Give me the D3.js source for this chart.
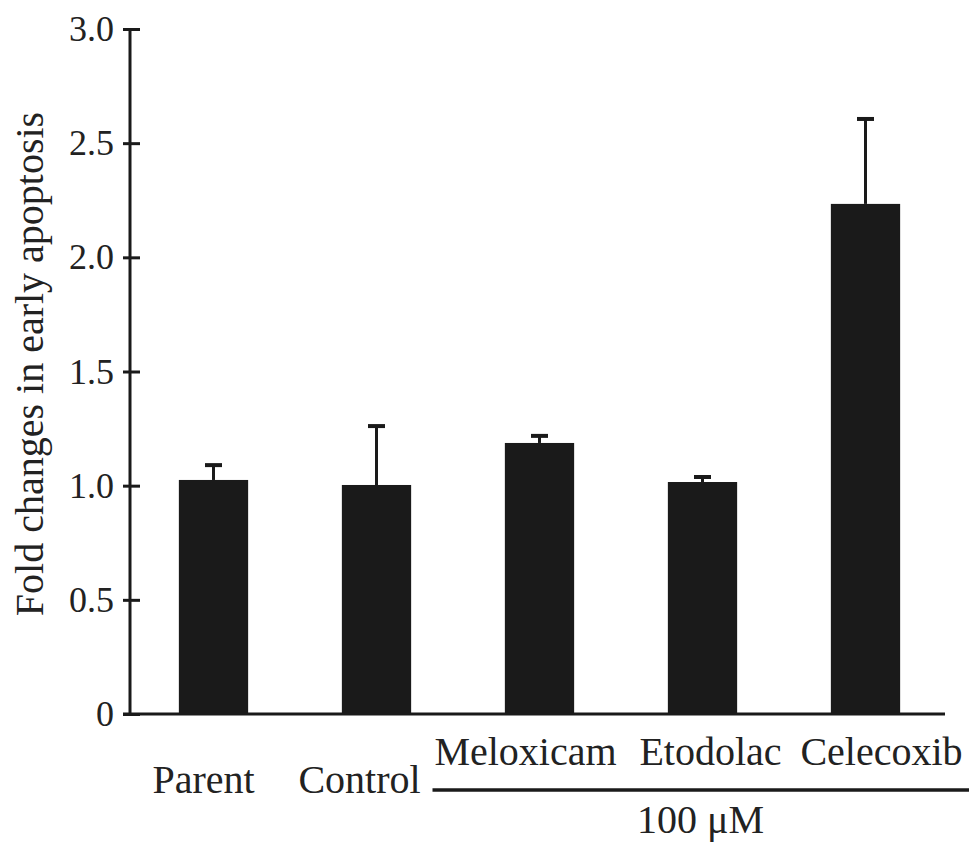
<!DOCTYPE html>
<html>
<head>
<meta charset="utf-8">
<script src="https://cdn.jsdelivr.net/npm/d3@7"></script>
<style>
  html, body { margin: 0; padding: 0; background: #fff; }
  svg { display: block; }
  text { font-family: "Liberation Serif", "Times New Roman", serif; fill: #222; }
</style>
</head>
<body>
<svg id="chart" width="969" height="846"></svg>
<script>
// Treatment groups and measured fold changes (mean and SD)
const categories = ["Parent", "Control", "Meloxicam", "Etodolac", "Celecoxib"];
const means = [1.025, 1.003, 1.187, 1.016, 2.234];
const errors = [0.065, 0.258, 0.031, 0.022, 0.372];
const yTicks = [0, 0.5, 1.0, 1.5, 2.0, 2.5, 3.0];
const yTickLabels = ["0", "0.5", "1.0", "1.5", "2.0", "2.5", "3.0"];
const yTitle = "Fold changes in early apoptosis";
const groupLabel = "100 \u03bcM";
const drugGroup = ["Meloxicam", "Etodolac", "Celecoxib"];

// Label placement under the axis
const labelLayout = {
  Parent:    { anchor: "middle", dx: -10, row: 1 },
  Control:   { anchor: "middle", dx: -17, row: 1 },
  Meloxicam: { anchor: "middle", dx: -14, row: 0 },
  Etodolac:  { anchor: "middle", dx: 8,   row: 0 },
  Celecoxib: { anchor: "middle", dx: 16,  row: 0 }
};

const svg = d3.select("#chart");
const ink = "#1a1a1a";

const x = d3.scaleBand()
  .domain(categories)
  .range([132, 947])
  .paddingInner(0.575)
  .paddingOuter(0.2875);

const y = d3.scaleLinear()
  .domain([0, 3])
  .range([714, 29]);

const data = categories.map((c, i) => ({ name: c, mean: means[i], err: errors[i] }));

// Bars
svg.append("g").selectAll("rect")
  .data(data)
  .enter().append("rect")
  .attr("x", d => x(d.name))
  .attr("y", d => y(d.mean))
  .attr("width", x.bandwidth())
  .attr("height", d => y(0) - y(d.mean))
  .attr("fill", ink);

// Upper error bars
const eb = svg.append("g").attr("stroke", ink).attr("fill", "none");
eb.selectAll("line.stem")
  .data(data)
  .enter().append("line")
  .attr("class", "stem")
  .attr("x1", d => x(d.name) + x.bandwidth() / 2)
  .attr("x2", d => x(d.name) + x.bandwidth() / 2)
  .attr("y1", d => y(d.mean))
  .attr("y2", d => y(d.mean + d.err))
  .attr("stroke-width", 3);
eb.selectAll("line.cap")
  .data(data)
  .enter().append("line")
  .attr("class", "cap")
  .attr("x1", d => x(d.name) + x.bandwidth() / 2 - 8.5)
  .attr("x2", d => x(d.name) + x.bandwidth() / 2 + 8.5)
  .attr("y1", d => y(d.mean + d.err))
  .attr("y2", d => y(d.mean + d.err))
  .attr("stroke-width", 4);

// Y axis with ticks crossing the spine
const yAxis = d3.axisLeft(y)
  .tickValues(yTicks)
  .tickFormat((d, i) => yTickLabels[i])
  .tickSize(0)
  .tickPadding(16);
const gy = svg.append("g").attr("transform", "translate(130,0)").call(yAxis);
gy.select(".domain").remove();
gy.selectAll(".tick text")
  .attr("font-size", 36)
  .attr("fill", "#222")
  .attr("font-family", "Liberation Serif, serif");
gy.selectAll(".tick").append("line")
  .attr("x1", -7).attr("x2", 10)
  .attr("stroke", ink).attr("stroke-width", 3);
svg.append("line")
  .attr("x1", 130).attr("x2", 130)
  .attr("y1", y(3) - 1).attr("y2", y(0))
  .attr("stroke", ink).attr("stroke-width", 3);

// X baseline
svg.append("line")
  .attr("x1", 123).attr("x2", 945)
  .attr("y1", y(0)).attr("y2", y(0))
  .attr("stroke", ink).attr("stroke-width", 3);

// Category labels
svg.append("g").selectAll("text")
  .data(categories)
  .enter().append("text")
  .attr("x", c => x(c) + x.bandwidth() / 2 + labelLayout[c].dx)
  .attr("y", c => labelLayout[c].row === 0 ? 765 : 793)
  .attr("text-anchor", c => labelLayout[c].anchor)
  .attr("font-size", 40)
  .text(c => c);

// Bracket line and concentration under the drug group
const groupStart = x(drugGroup[0]) + x.bandwidth() / 2 - 107;
svg.append("line")
  .attr("x1", groupStart).attr("x2", 969)
  .attr("y1", 790).attr("y2", 790)
  .attr("stroke", ink).attr("stroke-width", 3.5);
svg.append("text")
  .attr("x", x(drugGroup[1]) + x.bandwidth() / 2 - 2)
  .attr("y", 833)
  .attr("text-anchor", "middle")
  .attr("font-size", 40)
  .text(groupLabel);

// Y axis title
svg.append("text")
  .attr("transform", "translate(43,364) rotate(-90)")
  .attr("text-anchor", "middle")
  .attr("font-size", 40)
  .text(yTitle);
</script>
</body>
</html>
